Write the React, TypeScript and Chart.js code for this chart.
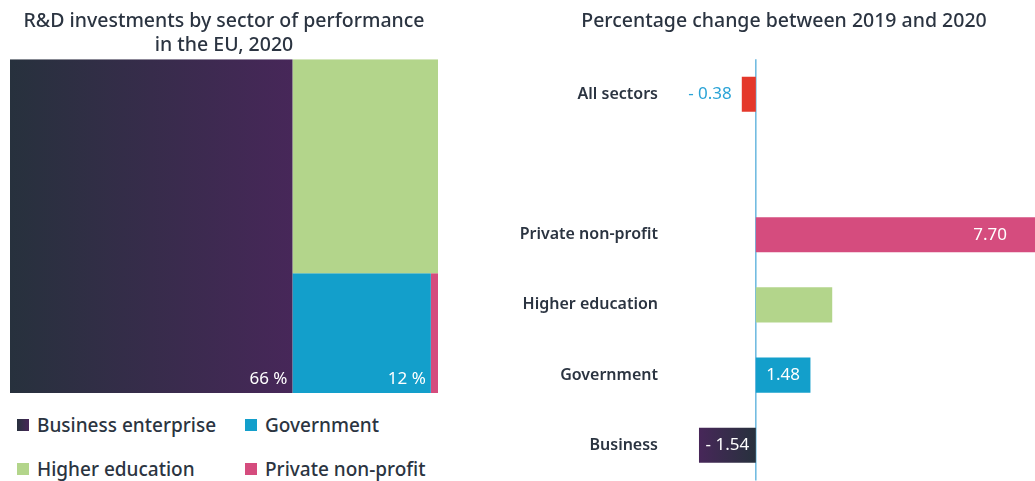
import React, { useEffect, useRef } from 'react';
import { Chart, registerables } from 'chart.js';

Chart.register(...registerables);

const FONT = "'Noto Sans', sans-serif";
const TEXT = '#2b3441';

// Left panel: share of R&D by sector (treemap)
const shareTitle = ['R&D investments by sector of performance', 'in the EU, 2020'];
const shareSectors = ['Business enterprise', 'Higher education', 'Government', 'Private non-profit'];
const shareValues = [66.0, 21.8, 11.6, 0.6];
const shareLabels = ['66 %', '', '12 %', ''];
const shareColors = ['#2d3142', '#b3d58b', '#139fcb', '#d54c7e'];

// Right panel: percentage change 2019-2020
const changeTitle = 'Percentage change between 2019 and 2020';
const changeCategories = ['All sectors', '', 'Private non-profit', 'Higher education', 'Government', 'Business'];
const changeValues = [-0.38, null, 7.7, 2.07, 1.48, -1.54];
const changeLabels = ['- 0.38', '', '7.70', '', '1.48', '- 1.54'];
const changeColors = ['#e4382b', '#ffffff', '#d54c7e', '#b3d58b', '#139fcb', '#2d3142'];

// Legend layout (order as in reference)
const legendOrder = [0, 2, 1, 3];

const GRAD_DARK = '#27313d';
const GRAD_PURPLE = '#472759';

type Rect = { x0: number; x1: number; y0: number; y1: number };

function layoutRects(values: number[]): Rect[] {
  let x0 = 0, x1 = 100, y0 = 0, y1 = 100;
  let remaining = values.reduce((a, b) => a + b, 0);
  const rects: Rect[] = [];
  values.forEach((v, i) => {
    if (i === values.length - 1) {
      rects.push({ x0, x1, y0, y1 });
      return;
    }
    const frac = v / remaining;
    if (i % 2 === 0) {
      const xm = x0 + (x1 - x0) * frac;
      rects.push({ x0, x1: xm, y0, y1 });
      x0 = xm;
    } else {
      const ym = y1 - (y1 - y0) * frac;
      rects.push({ x0, x1, y0: ym, y1 });
      y1 = ym;
    }
    remaining -= v;
  });
  return rects;
}

function TreemapChart() {
  const ref = useRef<HTMLCanvasElement>(null);
  useEffect(() => {
    const rects = layoutRects(shareValues);
    const labelPlugin = {
      id: 'treeLabels',
      afterDatasetsDraw(chart: any) {
        const { ctx, scales } = chart;
        ctx.save();
        ctx.font = `17px ${FONT}`;
        ctx.fillStyle = '#ffffff';
        ctx.textAlign = 'right';
        ctx.textBaseline = 'bottom';
        rects.forEach((r, i) => {
          const t = shareLabels[i];
          if (!t) return;
          ctx.fillText(t, scales.x.getPixelForValue(r.x1) - 5, scales.y.getPixelForValue(r.y0) - 5);
        });
        ctx.restore();
      },
    };
    const chart = new Chart(ref.current!, {
      type: 'scatter',
      data: {
        datasets: rects.map((r, i) => ({
          label: shareSectors[i],
          data: [
            { x: r.x0, y: r.y0 },
            { x: r.x1, y: r.y0 },
            { x: r.x1, y: r.y1 },
            { x: r.x0, y: r.y1 },
            { x: r.x0, y: r.y0 },
          ],
          showLine: true,
          fill: 'shape',
          borderWidth: 0,
          borderColor: 'rgba(0,0,0,0)',
          pointRadius: 0,
          pointHoverRadius: 0,
          tension: 0,
          backgroundColor:
            i === 0
              ? (c: any) => {
                  const ch = c.chart;
                  if (!ch.chartArea || !ch.scales.x) return shareColors[0];
                  const g = ch.ctx.createLinearGradient(
                    ch.scales.x.getPixelForValue(r.x0), 0,
                    ch.scales.x.getPixelForValue(r.x1), 0
                  );
                  g.addColorStop(0, GRAD_DARK);
                  g.addColorStop(1, GRAD_PURPLE);
                  return g;
                }
              : shareColors[i],
        })),
      },
      options: {
        animation: false,
        responsive: false,
        layout: { padding: { left: 10, right: 12, top: 0, bottom: 7 } },
        scales: {
          x: { type: 'linear', min: 0, max: 100, display: false },
          y: { type: 'linear', min: 0, max: 100, display: false },
        },
        plugins: {
          legend: { display: false },
          tooltip: { enabled: false },
          title: {
            display: true,
            text: shareTitle,
            color: TEXT,
            font: { family: FONT, size: 19.5, weight: '500', lineHeight: 1.24 },
            padding: { top: 9, bottom: 2 },
          },
        },
      } as any,
      plugins: [labelPlugin],
    });
    return () => chart.destroy();
  }, []);
  return <canvas ref={ref} width={450} height={400} style={{ position: 'absolute', left: 0, top: 0 }} />;
}

function ChangeChart() {
  const ref = useRef<HTMLCanvasElement>(null);
  useEffect(() => {
    const zeroLinePlugin = {
      id: 'zeroLine',
      beforeDatasetsDraw(chart: any) {
        const { ctx, chartArea, scales } = chart;
        const x = scales.x.getPixelForValue(0);
        ctx.save();
        ctx.strokeStyle = '#6ab8df';
        ctx.lineWidth = 1.5;
        ctx.beginPath();
        ctx.moveTo(x, chartArea.top);
        ctx.lineTo(x, chartArea.bottom);
        ctx.stroke();
        ctx.restore();
      },
    };
    const valuePlugin = {
      id: 'valueLabels',
      afterDatasetsDraw(chart: any) {
        const { ctx, scales } = chart;
        const meta = chart.getDatasetMeta(0);
        const clipRight = scales.x.getPixelForValue(7.7);
        ctx.save();
        ctx.font = `17px ${FONT}`;
        ctx.textBaseline = 'middle';
        meta.data.forEach((bar: any, i: number) => {
          const t = changeLabels[i];
          if (!t || changeValues[i] == null) return;
          const left = Math.min(bar.x, bar.base);
          const right = Math.max(bar.x, bar.base);
          const w = ctx.measureText(t).width;
          if (right - left < w + 10) {
            ctx.fillStyle = '#2aa3d6';
            ctx.textAlign = 'right';
            ctx.fillText(t, left - 10, bar.y);
          } else if (right - left > 150) {
            ctx.fillStyle = '#ffffff';
            ctx.textAlign = 'right';
            ctx.fillText(t, Math.min(right, clipRight) - 33, bar.y);
          } else {
            ctx.fillStyle = '#ffffff';
            ctx.textAlign = 'center';
            ctx.fillText(t, (left + right) / 2, bar.y);
          }
        });
        ctx.restore();
      },
    };
    const chart = new Chart(ref.current!, {
      type: 'bar',
      data: {
        labels: changeCategories,
        datasets: [
          {
            data: changeValues,
            categoryPercentage: 1,
            barPercentage: 0.5,
            borderWidth: 0,
            backgroundColor: (c: any) => {
              const i = c.dataIndex;
              if (i === changeCategories.length - 1) {
                const ch = c.chart;
                if (!ch.chartArea || !ch.scales.x) return changeColors[i];
                const g = ch.ctx.createLinearGradient(
                  ch.scales.x.getPixelForValue(changeValues[i] as number), 0,
                  ch.scales.x.getPixelForValue(0), 0
                );
                g.addColorStop(0, GRAD_PURPLE);
                g.addColorStop(1, GRAD_DARK);
                return g;
              }
              return changeColors[i];
            },
          },
        ],
      },
      options: {
        indexAxis: 'y',
        animation: false,
        responsive: false,
        layout: { padding: { left: 0, right: 0, top: 0, bottom: 0 } },
        scales: {
          x: {
            min: -2,
            max: 9,
            display: false,
          },
          y: {
            grid: { display: false, drawTicks: false },
            border: { display: false },
            ticks: {
              color: TEXT,
              padding: 24,
              font: { family: FONT, size: 16, weight: '600' },
            },
            afterFit: (s: any) => {
              s.width = 202;
            },
          },
        },
        plugins: {
          legend: { display: false },
          tooltip: { enabled: false },
          title: {
            display: true,
            text: changeTitle,
            color: TEXT,
            font: { family: FONT, size: 19.5, weight: '500', lineHeight: 1.24 },
            padding: { top: 9, bottom: 26 },
          },
        },
      } as any,
      plugins: [zeroLinePlugin, valuePlugin],
    });
    return () => chart.destroy();
  }, []);
  return <canvas ref={ref} width={608} height={514} style={{ position: 'absolute', left: 480, top: 0 }} />;
}

function Legend() {
  const cols = [17, 245];
  const rows = [425, 469];
  return (
    <>
      {legendOrder.map((idx, k) => {
        const col = cols[k % 2];
        const row = rows[Math.floor(k / 2)];
        const bg =
          idx === 0 ? `linear-gradient(to right, ${GRAD_DARK}, ${GRAD_PURPLE})` : shareColors[idx];
        return (
          <div
            key={idx}
            style={{
              position: 'absolute',
              left: col,
              top: row - 12,
              height: 24,
              display: 'flex',
              alignItems: 'center',
              fontFamily: FONT,
              fontSize: 19,
              fontWeight: 500,
              color: TEXT,
              whiteSpace: 'nowrap',
            }}
          >
            <span style={{ display: 'inline-block', width: 12, height: 12, background: bg, marginRight: 8 }} />
            <span>{shareSectors[idx]}</span>
          </div>
        );
      })}
    </>
  );
}

export default function App() {
  return (
    <div
      style={{
        position: 'absolute',
        left: 0,
        top: 0,
        width: 1035,
        height: 481,
        overflow: 'hidden',
        background: '#ffffff',
      }}
    >
      <TreemapChart />
      <Legend />
      <ChangeChart />
    </div>
  );
}
